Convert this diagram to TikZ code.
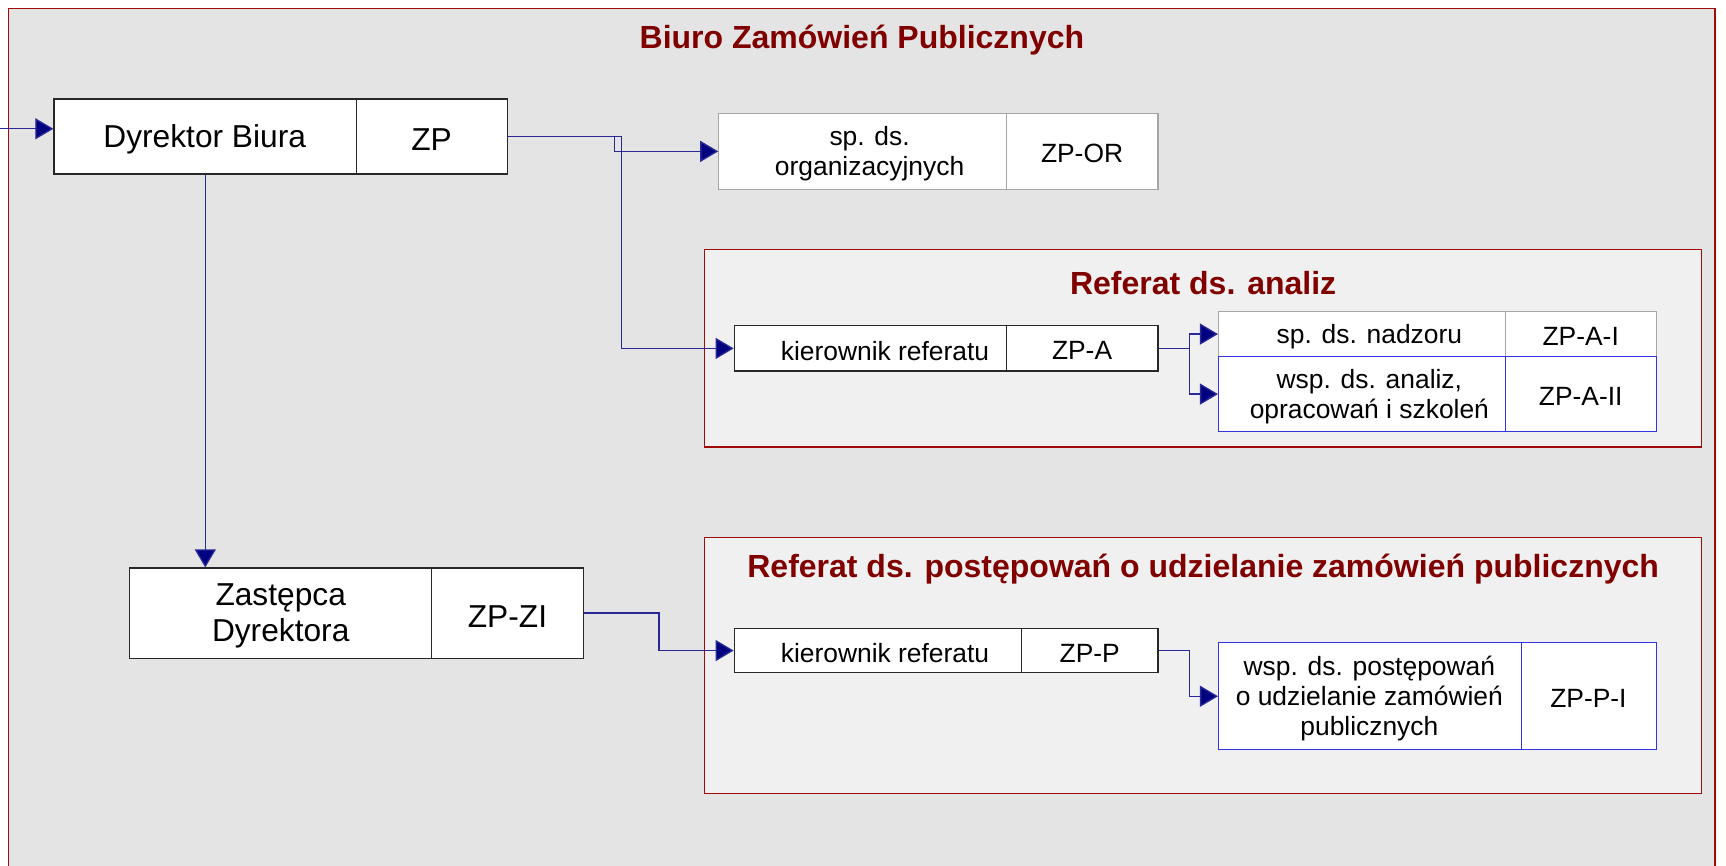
\documentclass[tikz,border=0pt]{standalone}
\usepackage{fontspec}
\setmainfont{Liberation Sans}
\usetikzlibrary{arrows.meta}
\definecolor{frameRed}{RGB}{160,10,10}
\definecolor{titleRed}{RGB}{128,0,0}
\definecolor{outerFill}{RGB}{228,228,228}
\definecolor{innerFill}{RGB}{240,240,240}
\definecolor{connBlue}{RGB}{0,0,128}
\definecolor{lineBlue}{RGB}{40,40,150}
\definecolor{cellDark}{RGB}{40,40,40}
\definecolor{cellGray}{RGB}{166,166,166}
\definecolor{cellBlue}{RGB}{50,50,230}
\begin{document}
\begin{tikzpicture}[x=0.5504pt, y=-0.5504pt,
  frame/.style 2 args={draw=frameRed, line width=0.6pt, inner sep=0pt,
    minimum width=#1*0.5504pt, minimum height=#2*0.5504pt},
  cell/.style 2 args={draw=cellDark, line width=0.6pt, fill=white, inner sep=0pt,
    minimum width=#1*0.5504pt, minimum height=#2*0.5504pt},
  txtbig/.style={font=\fontsize{15.85}{18.2}\selectfont, align=center, inner sep=0pt, yshift=-1.5pt},
  txtsmall/.style={font=\fontsize{13.2}{14.9}\selectfont, align=center, inner sep=0pt, yshift=-1.2pt},
  ttl/.style={font=\fontsize{16}{19}\selectfont\bfseries, text=titleRed, inner sep=0pt, yshift=-1.5pt},
  conn/.style={draw=lineBlue, line width=0.65pt, -{Triangle[length=9pt,width=10.5pt,fill=connBlue]}}
]
\useasboundingbox[fill=white] (0,0) rectangle (1568,786);

% frames
\node[frame={1550}{822}, fill=outerFill] (outer) at (783,419) {};
\node[frame={906}{179}, fill=innerFill] (fA) at (1093,316.5) {};
\node[frame={906}{233}, fill=innerFill] (fP) at (1093,604.5) {};

% titles
\node[ttl] (tOuter) at (783,34) {Biuro Zamówień Publicznych};
\node[ttl] (tA) at (1093,254) {Referat ds. analiz};
\node[ttl] (tP) at (1093,514) {Referat ds. postępowań o udzielanie zamówień publicznych};

% Dyrektor
\node[cell={275}{68}] (dl) at (186.5,124) {};
\node[cell={137}{68}] (dz) at (392.5,124) {};
\node[txtbig] (dlt) at (186,124) {Dyrektor Biura};
\node[txtbig] (dzt) at (392,124) {ZP};

% Zastepca
\node[cell={274}{82}] (zl) at (255,557) {};
\node[cell={138}{82}] (zr) at (461,557) {};
\node[txtbig] (zlt) at (255,557) {Zastępca\\Dyrektora};
\node[txtbig] (zrt) at (461,557) {ZP-ZI};

% sp. ds. organizacyjnych
\node[cell={261}{69}, draw=cellGray] (ol) at (783.5,137.5) {};
\node[cell={138}{69}, draw=cellGray] (or) at (983,137.5) {};
\node[txtsmall] (olt) at (790,137.5) {sp. ds.\\organizacyjnych};
\node[txtsmall] (ort) at (983,137.5) {ZP-OR};

% kierownik referatu A
\node[cell={247}{41}] (al) at (790.5,316.5) {};
\node[cell={138}{41}] (ar) at (983,316.5) {};
\node[txtsmall] (alt) at (804,316.5) {kierownik referatu};
\node[txtsmall] (art) at (983,316.5) {ZP-A};

% sp. ds. nadzoru
\node[cell={261}{41}, draw=cellGray] (nl) at (1237.5,303.5) {};
\node[cell={137}{41}, draw=cellGray] (nr) at (1436.5,303.5) {};
\node[txtsmall] (nlt) at (1244,303.5) {sp. ds. nadzoru};
\node[txtsmall] (nrt) at (1436,303.5) {ZP-A-I};

% wsp. ds. analiz
\node[cell={261}{68}, draw=cellBlue] (wl) at (1237.5,358) {};
\node[cell={137}{68}, draw=cellBlue] (wr) at (1436.5,358) {};
\node[txtsmall] (wlt) at (1244,358) {wsp. ds. analiz,\\opracowań i szkoleń};
\node[txtsmall] (wrt) at (1436,358) {ZP-A-II};

% kierownik referatu P
\node[cell={261}{40}] (pl) at (797.5,591) {};
\node[cell={124}{40}] (pr) at (990,591) {};
\node[txtsmall] (plt) at (804,591) {kierownik referatu};
\node[txtsmall] (prt) at (990,591) {ZP-P};

% wsp. ds. postepowan
\node[cell={275}{97}, draw=cellBlue] (ql) at (1244.5,632.5) {};
\node[cell={123}{97}, draw=cellBlue] (qr) at (1443.5,632.5) {};
\node[txtsmall] (qlt) at (1244,632.5) {wsp. ds. postępowań\\o udzielanie zamówień\\publicznych};
\node[txtsmall] (qrt) at (1443,632.5) {ZP-P-I};

% connectors
\coordinate (in) at (0,117);
\draw[conn] (in) -- (in -| dl.west);
\draw[conn] (dz.east) -- ++(97,0) |- (ol.west);
\draw[conn] (dz.east) -- ++(103,0) |- (al.west);
\draw[conn] (dl.south) -- (dl.south |- zl.north);
\draw[conn] (zr.east) -- ++(68,0) |- (pl.west);
\draw[conn] (ar.east) -- ++(28,0) |- (nl.west);
\draw[conn] (ar.east) -- ++(28,0) |- (wl.west);
\draw[conn] (pr.east) -- ++(28,0) |- (ql.west);
\end{tikzpicture}
\end{document}
